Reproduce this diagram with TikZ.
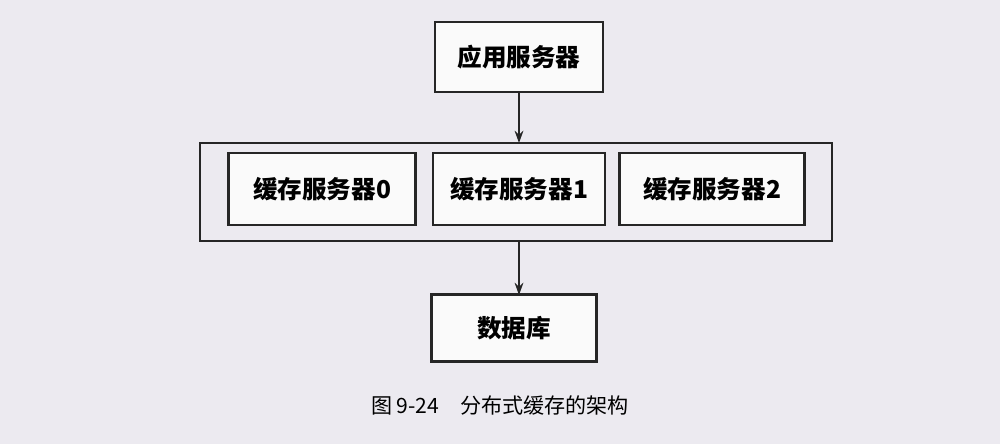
\documentclass[tikz,border=0pt]{standalone}
\usepackage{fontspec}
\newfontfamily\cjk{Noto Sans CJK SC}
\usetikzlibrary{arrows.meta}
\begin{document}
\begin{tikzpicture}[x=0.02cm,y=-0.02cm,
  box/.style={draw=black!85,line width=1.2pt,fill=white!96!gray,inner sep=0pt,font=\cjk\bfseries\fontsize{14pt}{16pt}\selectfont},
  arr/.style={-{Stealth[length=7pt,width=5pt]},line width=1pt,black!85}]
\fill[fill={rgb,255:red,236;green,234;blue,240}] (0,0) rectangle (1000,444);
\useasboundingbox (0,0) rectangle (1000,444);
\node[box,minimum width=168*0.02cm,minimum height=70*0.02cm] (app) at (519,57) {应用服务器};
\node[draw=black!85,line width=1.4pt,minimum width=632*0.02cm,minimum height=98*0.02cm,inner sep=0pt] (outer) at (516,192) {};
\node[box,minimum width=187*0.02cm,minimum height=72*0.02cm] (c0) at (322,189) {缓存服务器0};
\node[box,minimum width=172*0.02cm,minimum height=72*0.02cm] (c1) at (519,189) {缓存服务器1};
\node[box,minimum width=185*0.02cm,minimum height=72*0.02cm] (c2) at (712,189) {缓存服务器2};
\node[box,minimum width=165*0.02cm,minimum height=67*0.02cm] (db) at (514,328) {数据库};
\coordinate (ot) at (519,143);
\coordinate (ob) at (519,241);
\coordinate (dt) at (519,295);
\draw[arr] (app.south -| ot) -- (ot);
\draw[arr] (ob) -- (dt);
\node[font=\cjk\fontsize{12pt}{14pt}\selectfont] (cap) at (500,405) {图 9-24\quad 分布式缓存的架构};
\end{tikzpicture}
\end{document}
